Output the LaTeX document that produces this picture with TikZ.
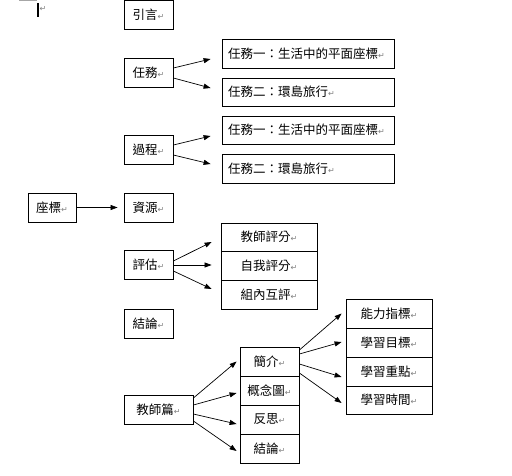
\documentclass[tikz,border=0pt]{standalone}
\usepackage{fontspec}
\newfontfamily\cjk{Noto Sans CJK TC}
\newfontfamily\dejavu{DejaVu Sans}
\usetikzlibrary{arrows.meta,calc}
\newcommand{\mk}{{\color{black!50}\fontsize{8}{8}\dejavu ↵}}
\tikzset{
  box/.style={draw=black,line width=0.8pt,minimum height=29pt,inner sep=2pt,
    font=\cjk\fontsize{12.5}{14}\selectfont},
  lbox/.style={box,minimum width=49pt},
  tbox/.style={box,text width=160pt,align=left,inner xsep=6pt},
  ebox/.style={box,minimum width=96pt},
  mbox/.style={box,minimum width=59pt},
  rbox/.style={box,minimum width=86pt},
  arr/.style={-{Triangle[length=7pt,width=5pt]},line width=0.7pt}
}
\begin{document}
\begin{tikzpicture}[x=1pt,y=-1pt]
\useasboundingbox (0,0) rectangle (512,475);
% cursor marks
\draw[black!35,line width=1.5pt] (19,0.7) -- (37,0.7);
\draw[black,line width=2pt] (38,3) -- (38,17);
\node[inner sep=0pt] (cur) at (43,9) {\mk};
% left column
\node[lbox] (intro) at (148.5,15) {引言\mk};
\node[lbox] (task) at (148.5,72.5) {任務\mk};
\node[lbox] (proc) at (148.5,149.5) {過程\mk};
\node[lbox] (res) at (148.5,207.5) {資源\mk};
\node[box,minimum width=48pt] (coord) at (52,207.5) {座標\mk};
\node[lbox] (eval) at (148.5,265) {評估\mk};
\node[lbox] (concl) at (148.5,323.5) {結論\mk};
\node[box,minimum width=69pt] (teach) at (158.5,409.5) {教師篇\mk};
% task boxes
\node[tbox] (t1a) at (308,53.5) {任務一：生活中的平面座標\mk};
\node[tbox,minimum height=28pt] (t1b) at (308,92) {任務二：環島旅行\mk};
\node[tbox,minimum height=28pt] (t2a) at (308,130) {任務一：生活中的平面座標\mk};
\node[tbox] (t2b) at (308,168.5) {任務二：環島旅行\mk};
% evaluation boxes
\node[ebox,minimum height=28pt] (e1) at (269,237) {教師評分\mk};
\node[ebox] (e2) at (269,265.5) {自我評分\mk};
\node[ebox] (e3) at (269,294.5) {組內互評\mk};
% teacher middle column
\node[mbox] (m1) at (269.5,361.5) {簡介\mk};
\node[mbox] (m2) at (269.5,390.5) {概念圖\mk};
\node[mbox] (m3) at (269.5,419.5) {反思\mk};
\node[mbox] (m4) at (269.5,448.5) {結論\mk};
% right column
\node[rbox] (r1) at (389,313.5) {能力指標\mk};
\node[rbox] (r2) at (389,342.5) {學習目標\mk};
\node[rbox] (r3) at (389,371.5) {學習重點\mk};
\node[rbox,minimum height=28pt] (r4) at (389,400) {學習時間\mk};
% arrows
\draw[arr] ($(task.east)+(0,-4.5)$) -- ($(t1a.west)+(-11,5.5)$);
\draw[arr] ($(task.east)+(0,5.5)$) -- ($(t1b.west)+(-11,-4)$);
\draw[arr] ($(proc.east)+(0,-4.5)$) -- ($(t2a.west)+(-11,6)$);
\draw[arr] ($(proc.east)+(0,5.5)$) -- ($(t2b.west)+(-11,-4.5)$);
\draw[arr] (coord.east) -- ($(res.west)+(-6,0)$);
\draw[arr] ($(eval.east)+(0,-4)$) -- ($(e1.west)+(-9,5)$);
\draw[arr] (eval.east) -- ($(e2.west)+(-9,-0.5)$);
\draw[arr] ($(eval.east)+(0,6)$) -- ($(e3.west)+(-9,-5.5)$);
\draw[arr] ($(teach.east)+(0,-11.5)$) -- ($(m1.west)+(-3,0)$);
\draw[arr] ($(teach.east)+(0,-4.5)$) -- ($(m2.west)+(-3,2.5)$);
\draw[arr] ($(teach.east)+(0,4.5)$) -- ($(m3.west)+(-3,4.5)$);
\draw[arr] ($(teach.east)+(0,11.5)$) -- ($(m4.west)+(-3,2.5)$);
\draw[arr] ($(m1.east)+(0,-11.5)$) -- ($(r1.west)+(-4,0)$);
\draw[arr] ($(m1.east)+(0,-7.5)$) -- ($(r2.west)+(-4,-0.5)$);
\draw[arr] ($(m1.east)+(0,2.5)$) -- ($(r3.west)+(-4,5.5)$);
\draw[arr] ($(m1.east)+(0,11.5)$) -- ($(r4.west)+(-4,3)$);
\end{tikzpicture}
\end{document}
